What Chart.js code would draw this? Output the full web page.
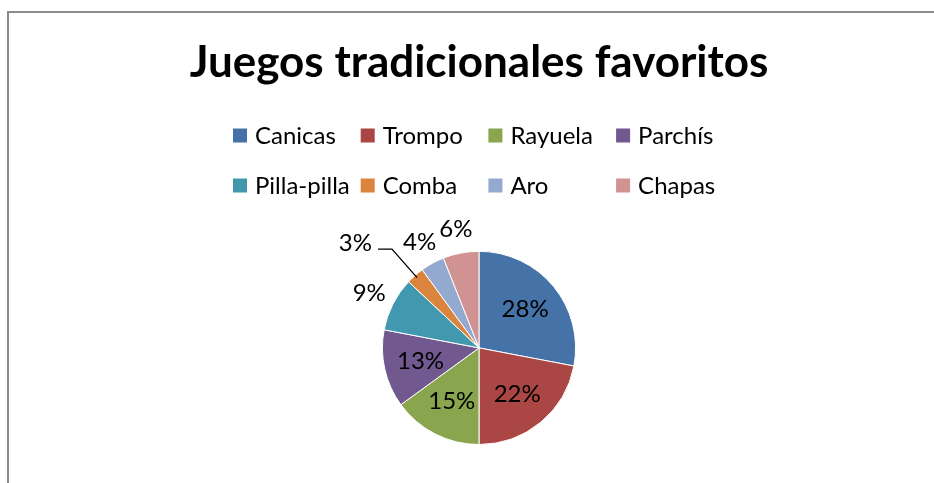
<!DOCTYPE html>
<html lang="es">

<head>
    <meta charset="UTF-8">
    <title>Juegos tradicionales favoritos</title>
    <style>
        html, body {
            margin: 0;
            padding: 0;
            background: #fff;
            overflow: hidden;
        }

        .frame {
            position: absolute;
            left: 7px;
            top: 11px;
            width: 950px;
            height: 480px;
            border-top: 2px solid #8c8c8c;
            border-left: 2px solid #8c8c8c;
        }

        #pieChart {
            position: absolute;
            left: 0;
            top: 0;
        }
    </style>
</head>

<body>
    <div class="frame">
        <canvas id="pieChart" width="940" height="470"></canvas>
    </div>

    <script src="https://cdn.jsdelivr.net/npm/chart.js@4.4.4/dist/chart.umd.min.js"></script>
    <script>
        const juegos = ['Canicas', 'Trompo', 'Rayuela', 'Parchís', 'Pilla-pilla', 'Comba', 'Aro', 'Chapas'];
        const porcentajes = [28, 22, 15, 13, 9, 3, 4, 6];
        const colores = ['#4572A7', '#AA4643', '#89A54E', '#71588F', '#4198AF', '#DB843D', '#93A9CF', '#D19392'];

        const FONT = 'Lato, "Open Sans", sans-serif';

        // Legend laid out as a fixed grid of 4 columns
        const gridLegend = {
            id: 'gridLegend',
            afterDraw(chart, args, opts) {
                const ctx = chart.ctx;
                ctx.save();
                ctx.font = opts.size + 'px ' + FONT;
                ctx.textBaseline = 'middle';
                ctx.textAlign = 'left';
                juegos.forEach((name, i) => {
                    const x = opts.left + (i % opts.cols) * opts.colWidth;
                    const y = opts.top + Math.floor(i / opts.cols) * opts.rowHeight;
                    ctx.fillStyle = colores[i];
                    ctx.fillRect(x, y - opts.box / 2, opts.box, opts.box);
                    ctx.fillStyle = '#000';
                    ctx.fillText(name, x + opts.box + 8, y + 1);
                });
                ctx.restore();
            }
        };

        // Percentage labels: big slices inside, small ones outside, tiny ones with a leader line
        const pctLabels = {
            id: 'pctLabels',
            afterDatasetsDraw(chart, args, opts) {
                const ctx = chart.ctx;
                const meta = chart.getDatasetMeta(0);
                const data = chart.data.datasets[0].data;
                const total = data.reduce((a, b) => a + b, 0);
                ctx.save();
                ctx.font = opts.size + 'px ' + FONT;
                ctx.fillStyle = '#000';
                ctx.strokeStyle = '#000';
                ctx.lineWidth = 1.3;
                ctx.textBaseline = 'middle';
                meta.data.forEach((arc, i) => {
                    const p = arc.getProps(['x', 'y', 'startAngle', 'endAngle', 'outerRadius']);
                    const mid = (p.startAngle + p.endAngle) / 2;
                    const dx = Math.cos(mid), dy = Math.sin(mid);
                    const r = p.outerRadius;
                    const text = Math.round(data[i] / total * 100) + '%';
                    const w = ctx.measureText(text).width;
                    const h = opts.size * 1.2;

                    if (data[i] / total >= 0.1) {
                        ctx.textAlign = 'center';
                        ctx.fillText(text, p.x + dx * r * 0.62, p.y + dy * r * 0.62);
                    } else if (data[i] / total > 0.035) {
                        const ax = p.x + dx * (r + 10);
                        const ay = p.y + dy * (r + 10);
                        ctx.textAlign = 'center';
                        ctx.fillText(text, ax + dx * w / 2, ay + dy * h / 2);
                    } else {
                        const sx = p.x + dx * r * 0.97, sy = p.y + dy * r * 0.97;
                        const ex = p.x + dx * (r + 35), ey = p.y + dy * (r + 35);
                        const side = dx < 0 ? -1 : 1;
                        const hx = ex + side * 14;
                        ctx.beginPath();
                        ctx.moveTo(sx, sy);
                        ctx.lineTo(ex, ey);
                        ctx.lineTo(hx, ey);
                        ctx.stroke();
                        ctx.textAlign = side < 0 ? 'right' : 'left';
                        ctx.fillText(text, hx + side * 6, ey - 6);
                    }
                });
                ctx.restore();
            }
        };

        const ctx = document.getElementById('pieChart').getContext('2d');
        const pieChart = new Chart(ctx, {
            type: 'pie',
            data: {
                labels: juegos,
                datasets: [{
                    data: porcentajes,
                    backgroundColor: colores,
                    borderColor: '#ffffff',
                    borderWidth: 1
                }]
            },
            options: {
                responsive: false,
                devicePixelRatio: 1,
                animation: false,
                layout: {
                    padding: { top: 0, bottom: 38, left: 0, right: 0 }
                },
                plugins: {
                    title: {
                        display: true,
                        text: 'Juegos tradicionales favoritos',
                        color: '#000',
                        font: { family: FONT, size: 44, weight: 'bold', lineHeight: 1.2 },
                        padding: { top: 23, bottom: 162 }
                    },
                    legend: { display: false },
                    tooltip: { enabled: false },
                    gridLegend: { left: 224, top: 122.5, cols: 4, colWidth: 127.7, rowHeight: 50, box: 14, size: 24 },
                    pctLabels: { size: 24 }
                }
            },
            plugins: [gridLegend, pctLabels]
        });
    </script>
</body>

</html>
